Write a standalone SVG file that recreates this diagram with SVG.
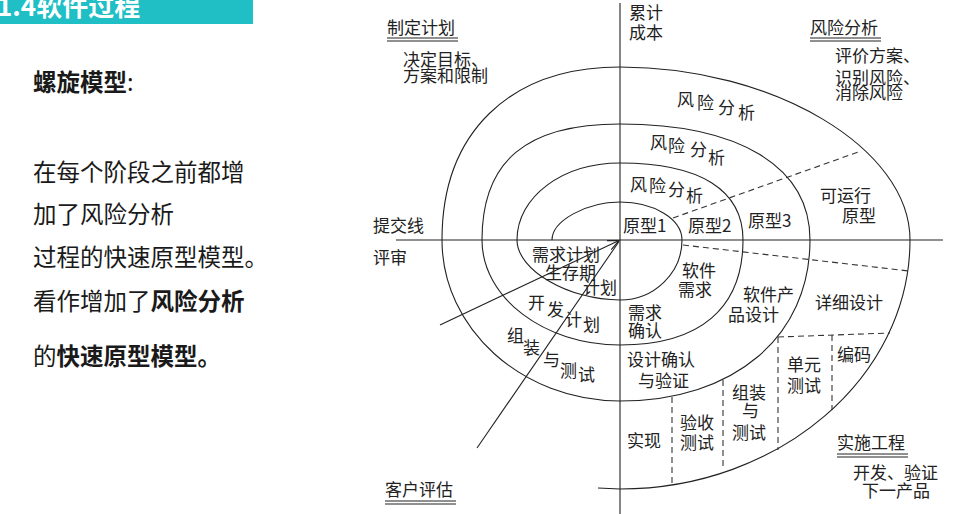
<svg xmlns="http://www.w3.org/2000/svg" width="963" height="514" viewBox="0 0 963 514">
<defs>
<style>
.l{font-family:"Noto Sans CJK SC","Noto Sans",sans-serif;fill:#1a1a1a;font-size:23.5px}
.b{font-weight:bold}
.t{font-family:"Noto Sans CJK SC","Noto Sans",sans-serif;fill:#222;font-size:17px}
.ln{fill:none;stroke:#222;stroke-width:1.1}
.ds{fill:none;stroke:#333;stroke-width:1.1;stroke-dasharray:6 4}
.ul{stroke:#222;stroke-width:1.2}
</style>
<marker id="arr" markerWidth="12" markerHeight="10" refX="11" refY="5" orient="auto" markerUnits="userSpaceOnUse">
<path d="M0,0 L11,5 L0,10" fill="none" stroke="#222" stroke-width="1.1"/>
</marker>
</defs>
<rect width="963" height="514" fill="#fff"/>

<g id="header">
<rect x="0" y="0" width="253" height="24" fill="#1fbfc5"/>
<text x="-3" y="16" font-family="Noto Sans CJK SC, sans-serif" font-weight="bold" font-size="26" fill="#fff">1.4软件过程</text>
</g>

<g id="left-text">
<text class="l" x="33" y="91"><tspan class="b">螺旋模型</tspan>:</text>
<text class="l" x="33" y="181">在每个阶段之前都增</text>
<text class="l" x="33" y="223">加了风险分析</text>
<text class="l" x="33" y="266">过程的快速原型模型。</text>
<text class="l" x="33" y="310">看作增加了<tspan class="b">风险分析</tspan></text>
<text class="l" x="33" y="365">的<tspan class="b">快速原型模型。</tspan></text>
</g>

<g id="connectors">
<line class="ln" x1="396" y1="240" x2="943" y2="240"/>
<line class="ln" x1="620" y1="3" x2="620" y2="514"/>
<path class="ln" d="M552,240 C552,221 586,202 620,202 C654.1,202 682,219.1 682,240 C682,273 654.1,300 620,300 C568.5,300 517,270 517,240 C517,196.9 562.3,163 620,163 C700,163 743,190 743,240 C743,308.3 700,345 620,345 C544.1,345 482,297.8 482,240 C482,161.1 526.2,124 620,124 C739.7,124 810,166.9 810,240 C810,336.6 734,401 620,401 C522.1,401 442,328.6 442,240 C442,132.7 509.6,67 620,67 C773.7,67 910,148.3 910,240 C910,377 779.5,489 620,489 L598,488"/>
<line class="ln" x1="440" y1="325" x2="619" y2="240.5" marker-end="url(#arr)"/>
<line class="ln" x1="477" y1="448" x2="619" y2="241.5"/>
<line class="ds" x1="673" y1="218" x2="861" y2="151"/>
<line class="ds" x1="683" y1="245" x2="909" y2="271"/>
<line class="ds" x1="778" y1="337" x2="890" y2="333"/>
<line class="ds" x1="778" y1="337" x2="778" y2="450"/>
<line class="ds" x1="832" y1="335" x2="832" y2="410"/>
<line class="ds" x1="723" y1="380" x2="723" y2="470"/>
<line class="ds" x1="672" y1="397" x2="672" y2="485"/>
</g>

<g id="plan">
<text class="t" x="387" y="34">制定计划</text>
<line class="ul" x1="387" y1="38" x2="458" y2="38"/>
<line class="ul" x1="387" y1="41" x2="458" y2="41"/>
<text class="t" x="403" y="66">决定目标、</text>
<text class="t" x="403" y="82">方案和限制</text>
</g>

<g id="cost">
<text class="t" x="629" y="19">累计</text>
<text class="t" x="629" y="39">成本</text>
</g>

<g id="risk">
<text class="t" x="810" y="34">风险分析</text>
<line class="ul" x1="810" y1="38" x2="881" y2="38"/>
<line class="ul" x1="810" y1="41" x2="881" y2="41"/>
<text class="t" x="835" y="62">评价方案、</text>
<text class="t" x="835" y="84">识别风险、</text>
<text class="t" x="835" y="99">消除风险</text>
</g>

<g id="risk-1">
<text class="t" x="677" y="106">风</text><text class="t" x="697" y="109">险</text><text class="t" x="718" y="114">分</text><text class="t" x="738" y="119">析</text>
</g>
<g id="risk-2">
<text class="t" x="650" y="149">风</text><text class="t" x="668" y="152">险</text><text class="t" x="690" y="156">分</text><text class="t" x="708" y="164">析</text>
</g>
<g id="risk-3">
<text class="t" x="630" y="191">风</text><text class="t" x="649" y="192">险</text><text class="t" x="668" y="196">分</text><text class="t" x="686" y="202">析</text>
</g>

<g id="review">
<text class="t" x="373" y="232">提交线</text>
<text class="t" x="373" y="264">评审</text>
</g>

<g id="prototypes">
<text class="t" x="623" y="232">原型1</text>
<text class="t" x="688" y="232">原型2</text>
<text class="t" x="748" y="227">原型3</text>
<text class="t" x="820" y="202">可运行</text>
<text class="t" x="842" y="222">原型</text>
</g>

<g id="plans">
<text class="t" x="532" y="261">需求计划</text>
<text class="t" x="545" y="279">生存期</text>
<text class="t" x="583" y="294">计划</text>
<text class="t" x="528" y="309">开</text><text class="t" x="547" y="316">发</text><text class="t" x="565" y="326">计</text><text class="t" x="583" y="331">划</text>
<text class="t" x="507" y="342">组</text><text class="t" x="523" y="354">装</text><text class="t" x="543" y="366">与</text><text class="t" x="560" y="377">测</text><text class="t" x="578" y="381">试</text>
</g>

<g id="engineering">
<text class="t" x="682" y="277">软件</text>
<text class="t" x="678" y="296">需求</text>
<text class="t" x="743" y="301">软件产</text>
<text class="t" x="728" y="321">品设计</text>
<text class="t" x="815" y="309">详细设计</text>
<text class="t" x="837" y="361">编码</text>
<text class="t" x="787" y="371">单元</text>
<text class="t" x="787" y="392">测试</text>
<text class="t" x="732" y="399">组装</text>
<text class="t" x="742" y="417">与</text>
<text class="t" x="732" y="439">测试</text>
<text class="t" x="680" y="429">验收</text>
<text class="t" x="680" y="449">测试</text>
<text class="t" x="627" y="447">实现</text>
<text class="t" x="628" y="319">需求</text>
<text class="t" x="628" y="337">确认</text>
<text class="t" x="627" y="366">设计确认</text>
<text class="t" x="638" y="387">与验证</text>
</g>

<g id="implement">
<text class="t" x="837" y="449">实施工程</text>
<line class="ul" x1="837" y1="454" x2="908" y2="454"/>
<line class="ul" x1="837" y1="457" x2="908" y2="457"/>
<text class="t" x="853" y="479">开发、验证</text>
<text class="t" x="862" y="497">下一产品</text>
</g>

<g id="customer">
<text class="t" x="385" y="496">客户评估</text>
<line class="ul" x1="385" y1="501" x2="456" y2="501"/>
<line class="ul" x1="385" y1="504" x2="456" y2="504"/>
</g>
</svg>
